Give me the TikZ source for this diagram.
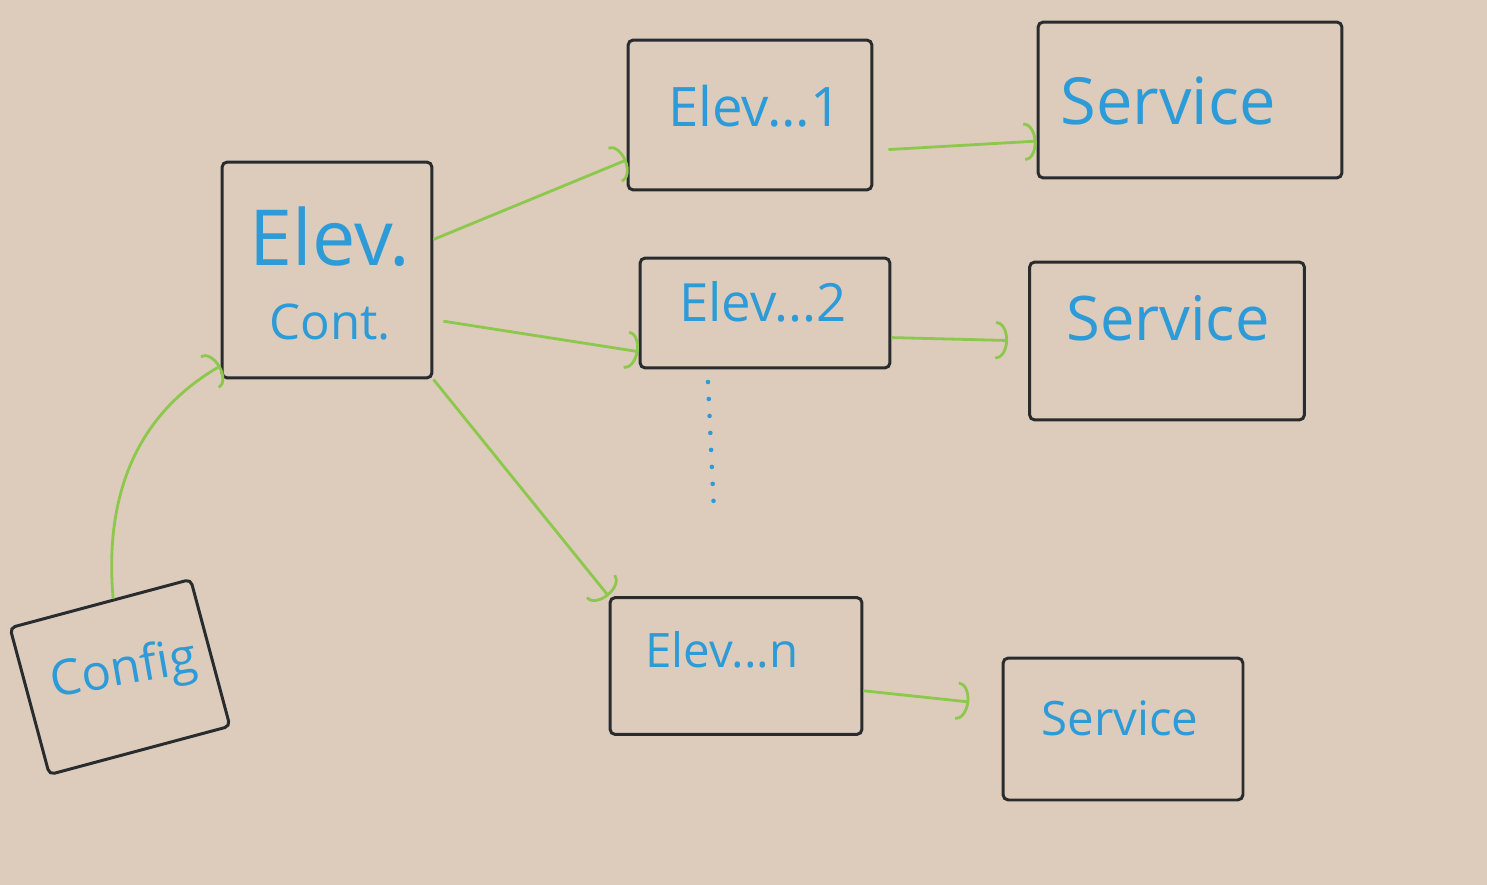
\documentclass[tikz,border=0pt]{standalone}
\usepackage{fontspec}
\setmainfont{Open Sans}
\usetikzlibrary{arrows.meta}
\definecolor{board}{RGB}{221,204,188}
\definecolor{ink}{RGB}{40,44,46}
\definecolor{marker}{RGB}{45,155,215}
\definecolor{lime}{RGB}{140,200,75}

\begin{document}
\begin{tikzpicture}[x=0.02cm, y=-0.02cm,
    box/.style={draw=ink, line width=1.7pt, rounded corners=3pt, inner sep=0pt},
    txt/.style={text=marker, inner sep=0pt},
    wire/.style={draw=lime, line width=1.6pt, -{Arc Barb[width=22pt, length=7pt]}}]

    %% Elevator controller board

    % Whiteboard
    \fill[board] (0,0) rectangle (1487,885);
    \useasboundingbox (0,0) rectangle (1487,885);

    % Controller
    \node[box, minimum width=4.2cm, minimum height=4.32cm] (cont) at (327,270) {};
    \node[txt, font=\fontsize{44}{50}\selectfont] (contA) at (330,237) {Elev.};
    \node[txt, font=\fontsize{28}{34}\selectfont] (contB) at (330,322) {Cont.};

    % Config
    \node[box, rotate=15, minimum width=3.74cm, minimum height=3.04cm] (cfg) at (120,677) {};
    \node[txt, rotate=10, font=\fontsize{28}{34}\selectfont] (cfgtxt) at (124,672) {Config};

    % Elevators
    \node[box, minimum width=4.88cm, minimum height=3.0cm] (e1) at (750,115) {};
    \node[txt, font=\fontsize{31}{36}\selectfont] (e1txt) at (755,106) {Elev...1};
    \node[box, minimum width=5.0cm, minimum height=2.2cm] (e2) at (765,313) {};
    \node[txt, font=\fontsize{30}{36}\selectfont] (e2txt) at (763,302) {Elev...2};
    \node[box, minimum width=5.04cm, minimum height=2.74cm] (en) at (736,666) {};
    \node[txt, font=\fontsize{27}{32}\selectfont] (entxt) at (722,650) {Elev...n};

    % Services
    \node[box, minimum width=6.08cm, minimum height=3.12cm] (s1) at (1190,100) {};
    \node[txt, font=\fontsize{37}{44}\selectfont] (s1txt) at (1168,101) {Service};
    \node[box, minimum width=5.5cm, minimum height=3.16cm] (s2) at (1167,341) {};
    \node[txt, font=\fontsize{35}{42}\selectfont] (s2txt) at (1168,318) {Service};
    \node[box, minimum width=4.8cm, minimum height=2.84cm] (s3) at (1123,729) {};
    \node[txt, font=\fontsize{27}{32}\selectfont] (s3txt) at (1120,718) {Service};

    % Dots between the elevators
    \coordinate (dotA) at (708,382);
    \coordinate (dotB) at (714,512);
    \draw[marker, line width=2.6pt, line cap=round, dash pattern=on 0pt off 0.34cm] (dotA) -- (dotB);

    % Arrows
    \draw[wire] (cfg.80) to[out=95, in=210] (cont.222);
    \draw[wire] (cont.16) -- (e1.200);
    \draw[wire, shorten <=0.2cm] (cont.-25) -- (e2.197);
    \draw[wire] (cont.south east) -- (en.north west);
    \draw[wire, shorten <=0.3cm] (e1.-16) -- (s1.195);
    \draw[wire, shorten >=0.4cm] (e2.-11) -- (s2.west);
    \draw[wire, shorten >=0.65cm] (en.-11) -- (s3.169);

\end{tikzpicture}
\end{document}
